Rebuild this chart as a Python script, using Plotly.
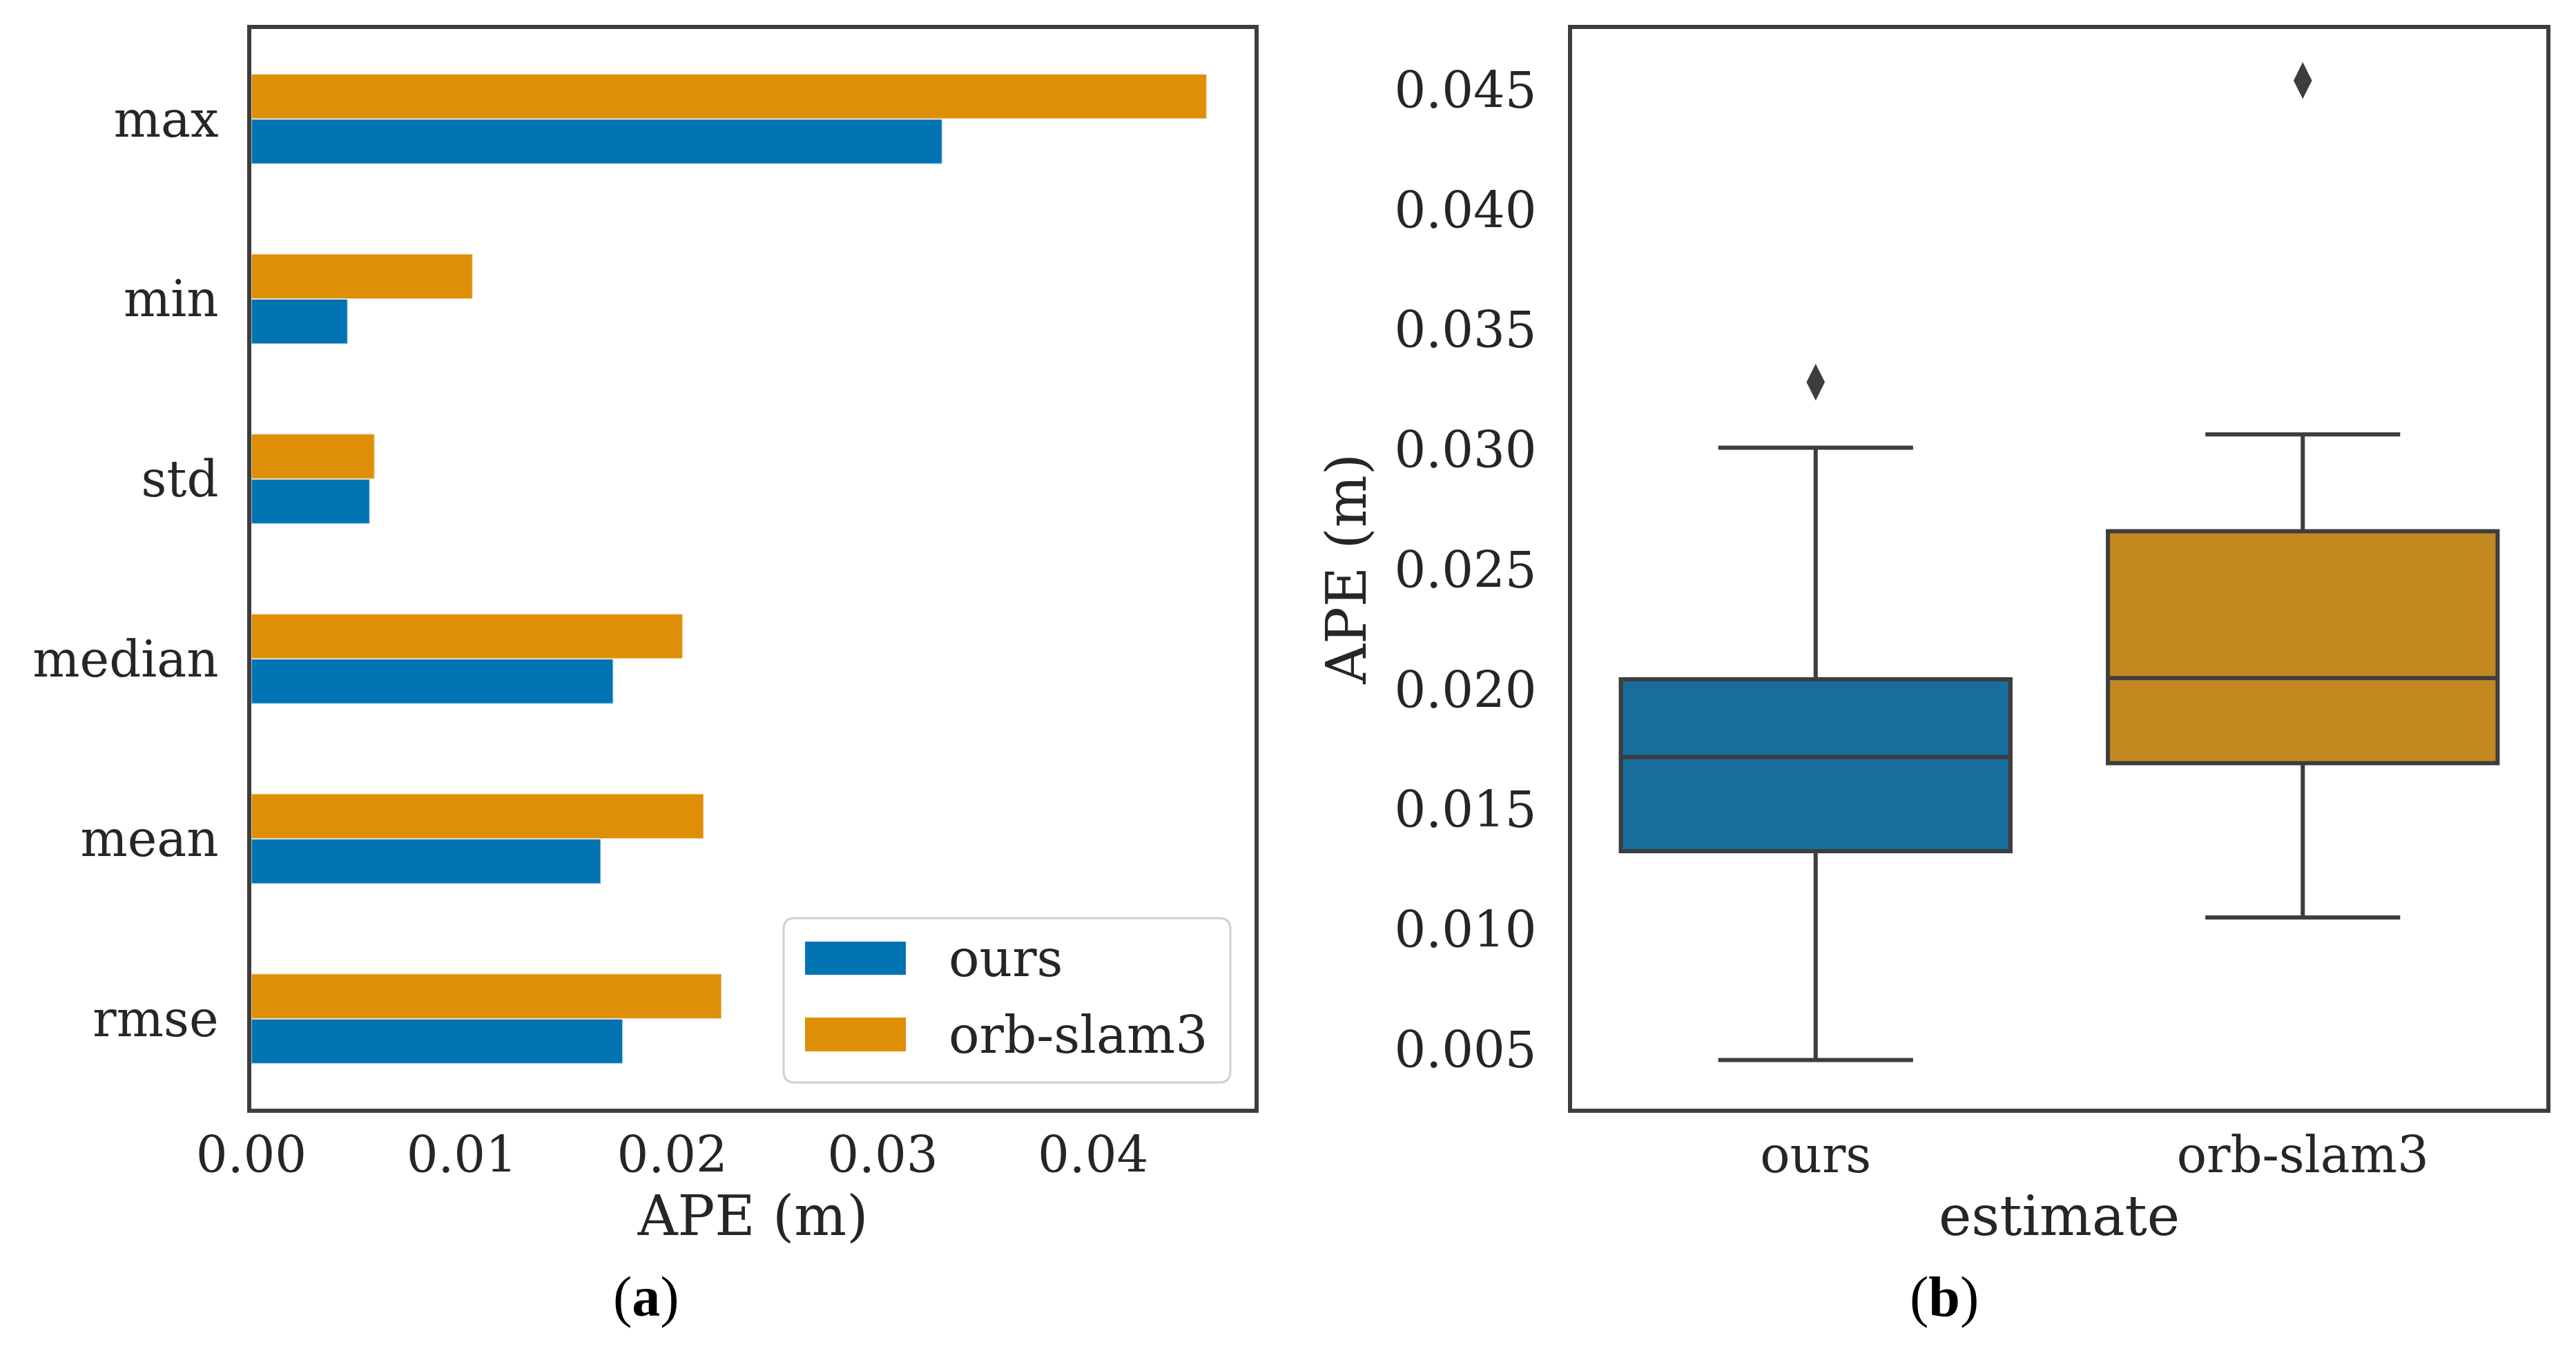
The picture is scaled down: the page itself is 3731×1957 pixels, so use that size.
import plotly.graph_objects as go

# ---------------- data ----------------
stat_names = ["rmse", "mean", "median", "std", "min", "max"]
ours_stats = [0.01765, 0.01661, 0.0172, 0.00563, 0.00458, 0.03283]
orb_stats = [0.02235, 0.02150, 0.0205, 0.00586, 0.01052, 0.04540]

estimates = ["ours", "orb-slam3"]
box_lower = [0.00458, 0.01052]
box_q1 = [0.01328, 0.01695]
box_median = [0.0172, 0.0205]
box_q3 = [0.02045, 0.02662]
box_upper = [0.03010, 0.03065]
outlier_x = ["ours", "orb-slam3"]
outlier_y = [0.03283, 0.04540]

bar_ticks = [0.0, 0.01, 0.02, 0.03, 0.04]
box_ticks = [0.005, 0.010, 0.015, 0.020, 0.025, 0.030, 0.035, 0.040, 0.045]

# ---------------- style ----------------
W, H = 3731, 1957
BLUE = "#0173b2"
ORANGE = "#de8f05"
BLUE_BOX = "#176d9c"
ORANGE_BOX = "#c38820"
LINE = "#3d3d3d"
TEXT = "#262626"
FONT = "DejaVu Serif"
TICK_SIZE = 72
TITLE_SIZE = 80
LEGEND_SIZE = 74


def px_x(v):
    return v / W


def px_y(v):
    return 1 - v / H


fig = go.Figure()

fig.add_trace(go.Bar(y=stat_names, x=ours_stats, orientation="h", name="ours",
                     marker=dict(color=BLUE, line=dict(color="rgba(255,255,255,0.6)", width=2)),
                     xaxis="x", yaxis="y", showlegend=False))
fig.add_trace(go.Bar(y=stat_names, x=orb_stats, orientation="h", name="orb-slam3",
                     marker=dict(color=ORANGE, line=dict(color="rgba(255,255,255,0.6)", width=2)),
                     xaxis="x", yaxis="y", showlegend=False))

box_fill = [BLUE_BOX, ORANGE_BOX]
for i, est in enumerate(estimates):
    fig.add_trace(go.Box(
        x=[est], q1=[box_q1[i]], median=[box_median[i]], q3=[box_q3[i]],
        lowerfence=[box_lower[i]], upperfence=[box_upper[i]],
        fillcolor=box_fill[i], line=dict(color=LINE, width=6),
        width=0.8, whiskerwidth=0.5, boxpoints=False, name=est,
        xaxis="x2", yaxis="y2", showlegend=False, hoverinfo="skip"))

fig.add_trace(go.Scatter(x=outlier_x, y=outlier_y, mode="markers",
                         marker=dict(symbol="diamond-tall", size=38, color=LINE),
                         xaxis="x2", yaxis="y2", showlegend=False))

y_dom = [px_y(1598), px_y(34)]
axis_common = dict(showline=True, mirror=True, linecolor=LINE, linewidth=6,
                   showgrid=False, zeroline=False, ticks="", automargin=False,
                   tickfont=dict(family=FONT, size=TICK_SIZE, color=TEXT))

fig.update_layout(
    width=W, height=H,
    margin=dict(l=0, r=0, t=0, b=0, autoexpand=False),
    paper_bgcolor="white", plot_bgcolor="white",
    barmode="group", bargap=0.5, bargroupgap=0,
    showlegend=False,
    xaxis=dict(domain=[px_x(356), px_x(1809)], range=[0, 0.04767],
               tickvals=bar_ticks, tickformat=".2f", anchor="y",
               title=dict(text="APE (m)", font=dict(family=FONT, size=TITLE_SIZE, color=TEXT), standoff=6),
               ticklabelstandoff=0, **axis_common),
    yaxis=dict(domain=y_dom, type="category", categoryorder="array", categoryarray=stat_names,
               range=[-0.5, 5.5], anchor="x", ticklabelstandoff=27, **axis_common),
    xaxis2=dict(domain=[px_x(2269), px_x(3680)], type="category", categoryorder="array",
                categoryarray=estimates, range=[-0.5, 1.5], anchor="y2",
                title=dict(text="estimate", font=dict(family=FONT, size=TITLE_SIZE, color=TEXT), standoff=6),
                ticklabelstandoff=0, **axis_common),
    yaxis2=dict(domain=y_dom, range=[0.00255, 0.04755], tickvals=box_ticks, tickformat=".3f",
                anchor="x2",
                title=dict(text="APE (m)", font=dict(family=FONT, size=TITLE_SIZE, color=TEXT), standoff=16),
                ticklabelstandoff=31, **axis_common),
)


def conv_path(x0, x1, y0, y1, rr):
    X = lambda v: v / W
    Y = lambda v: 1 - v / H
    return (f"M {X(x0 + rr)},{Y(y0)} L {X(x1 - rr)},{Y(y0)} Q {X(x1)},{Y(y0)} {X(x1)},{Y(y0 + rr)} "
            f"L {X(x1)},{Y(y1 - rr)} Q {X(x1)},{Y(y1)} {X(x1 - rr)},{Y(y1)} L {X(x0 + rr)},{Y(y1)} "
            f"Q {X(x0)},{Y(y1)} {X(x0)},{Y(y1 - rr)} L {X(x0)},{Y(y0 + rr)} Q {X(x0)},{Y(y0)} {X(x0 + rr)},{Y(y0)} Z")


# legend box inside panel (a)
lx0, lx1, ly0, ly1 = 1127, 1774, 1322, 1560
fig.add_shape(type="path", path=conv_path(lx0, lx1, ly0, ly1, 16), xref="paper", yref="paper",
              line=dict(color="#d0d0d0", width=3), fillcolor="rgba(255,255,255,0.8)")
legend_items = [("ours", BLUE, 1356, 1404), ("orb-slam3", ORANGE, 1466, 1515)]
for label, col, y0, y1 in legend_items:
    fig.add_shape(type="rect", xref="paper", yref="paper",
                  x0=px_x(1158), x1=px_x(1304), y0=px_y(y1), y1=px_y(y0),
                  fillcolor=col, line=dict(width=0))
    fig.add_annotation(x=px_x(1364), y=px_y((y0 + y1) / 2), xref="paper", yref="paper",
                       text=label, showarrow=False, xanchor="left", yanchor="middle",
                       font=dict(family=FONT, size=LEGEND_SIZE, color=TEXT))

# sub-figure captions
for txt, xc in [("(<b>a</b>)", 928), ("(<b>b</b>)", 2808)]:
    fig.add_annotation(x=px_x(xc), y=px_y(1870), xref="paper", yref="paper", text=txt,
                       showarrow=False, xanchor="center", yanchor="middle",
                       font=dict(family="Liberation Serif", size=82, color="black"))

fig.write_html("out.html")
